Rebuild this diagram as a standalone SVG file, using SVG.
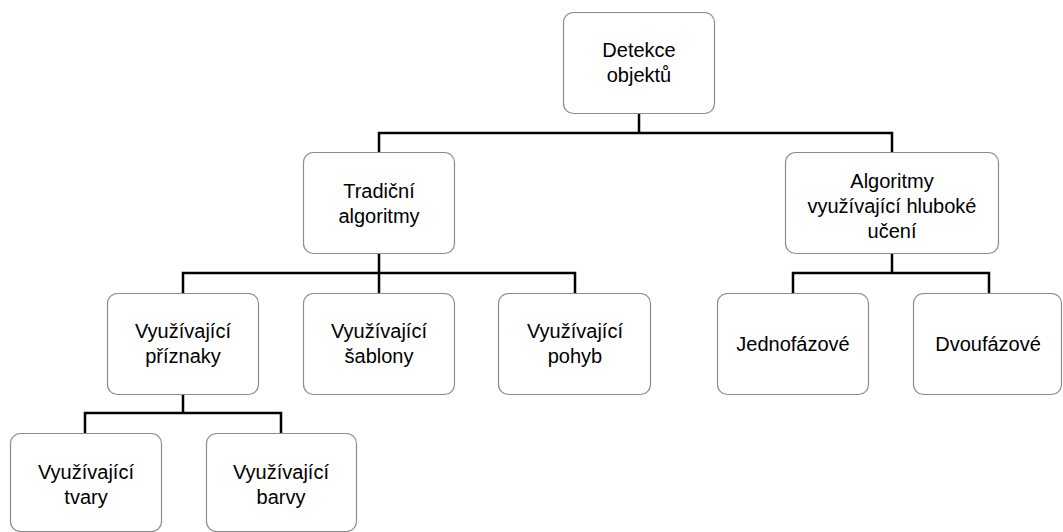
<svg xmlns="http://www.w3.org/2000/svg" width="1063" height="532" viewBox="0 0 1063 532">
<style>
.box{fill:#fff;stroke:#8c8c8c;stroke-width:1.2}
.t{font-family:"Liberation Sans",Arial,sans-serif;font-size:20px;fill:#000;text-anchor:middle}
.c{fill:none;stroke:#000;stroke-width:2.5;stroke-linecap:square;stroke-linejoin:miter}
</style>
<rect width="1063" height="532" fill="#fff"/>
<g id="connectors">
<path class="c" d="M639 113V133M379 153V133H892V153"/>
<path class="c" d="M379 253V273M183 293V273H575V293M379 273V293"/>
<path class="c" d="M892 253V273M793 293V273H989V293"/>
<path class="c" d="M183 394V413M85 433V413H281V433"/>
</g>
<g id="n-detekce">
<rect class="box" x="563.5" y="12.5" width="151" height="101" rx="10"/>
<text class="t" x="639" y="57">Detekce</text>
<text class="t" x="639" y="82">objektů</text>
</g>
<g id="n-tradicni">
<rect class="box" x="303.5" y="152.5" width="151" height="101" rx="10"/>
<text class="t" x="379" y="198">Tradiční</text>
<text class="t" x="379" y="223">algoritmy</text>
</g>
<g id="n-hluboke">
<rect class="box" x="785.5" y="152.5" width="213" height="101" rx="10"/>
<text class="t" x="892" y="188">Algoritmy</text>
<text class="t" x="892" y="213">využívající hluboké</text>
<text class="t" x="892" y="238">učení</text>
</g>
<g id="n-priznaky">
<rect class="box" x="107.5" y="293.5" width="151" height="101" rx="10"/>
<text class="t" x="183" y="338">Využívající</text>
<text class="t" x="183" y="363">příznaky</text>
</g>
<g id="n-sablony">
<rect class="box" x="303.5" y="293.5" width="151" height="101" rx="10"/>
<text class="t" x="379" y="338">Využívající</text>
<text class="t" x="379" y="363">šablony</text>
</g>
<g id="n-pohyb">
<rect class="box" x="498.5" y="293.5" width="152" height="101" rx="10"/>
<text class="t" x="575" y="338">Využívající</text>
<text class="t" x="575" y="363">pohyb</text>
</g>
<g id="n-jednofazove">
<rect class="box" x="717.5" y="293.5" width="151" height="101" rx="10"/>
<text class="t" x="793" y="351">Jednofázové</text>
</g>
<g id="n-dvoufazove">
<rect class="box" x="913.5" y="293.5" width="148" height="101" rx="10"/>
<text class="t" x="988" y="351">Dvoufázové</text>
</g>
<g id="n-tvary">
<rect class="box" x="10.5" y="433.5" width="151" height="98" rx="10"/>
<text class="t" x="86" y="479">Využívající</text>
<text class="t" x="86" y="504">tvary</text>
</g>
<g id="n-barvy">
<rect class="box" x="206.5" y="433.5" width="150" height="98" rx="10"/>
<text class="t" x="281" y="479">Využívající</text>
<text class="t" x="281" y="504">barvy</text>
</g>
</svg>
